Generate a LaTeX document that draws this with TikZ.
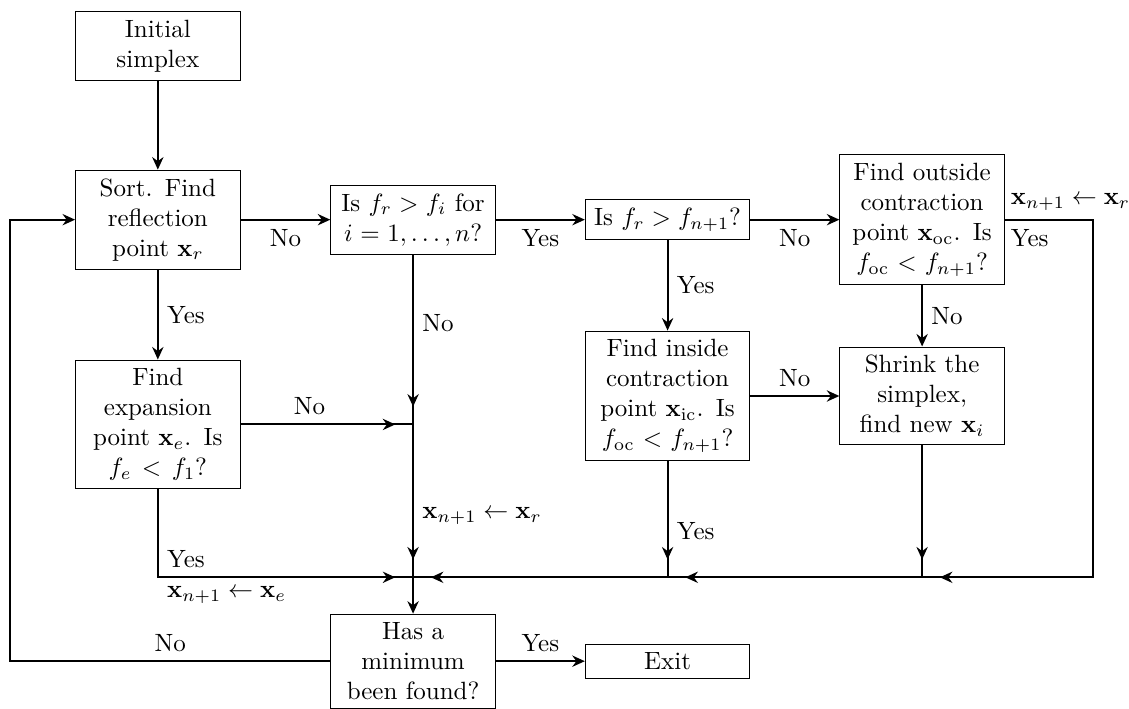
\documentclass[tikz,border=0pt]{standalone}
\usepackage{amssymb}
\usepackage{amsmath}
\usetikzlibrary{arrows.meta}

\begin{document}
\begin{tikzpicture}[scale=1.0,
  box/.style={draw, text width=2.08cm, align=center},
  flow/.style={thick, -{Stealth[length=5pt,width=4.5pt]}},
  merge/.style={thick, postaction={draw, flow, shorten >=0.25cm}}]
\useasboundingbox (0,0) rectangle (15.88,-9.97);

\node[box] (init) at (2.22,-0.65) {Initial simplex};
\node[box] (sort) at (2.22,-3.09) {Sort. Find reflection point $\mathbf{x}_r$};
\node[box] (isfi) at (5.81,-3.09) {Is $f_r > f_i$ for $i=1,\ldots,n$?};
\node[box] (isfn) at (9.39,-3.09) {Is $f_r > f_{n+1}$?};
\node[box] (outc) at (12.97,-3.09) {Find outside contraction point $\mathbf{x}_{\mathrm{oc}}$. Is $f_{\mathrm{oc}} < f_{n+1}$?};
\node[box] (expn) at (2.22,-5.97) {Find expansion point $\mathbf{x}_e$. Is $f_e < f_1$?};
\node[box] (insc) at (9.39,-5.57) {Find inside contraction point $\mathbf{x}_{\mathrm{ic}}$. Is $f_{\mathrm{oc}} < f_{n+1}$?};
\node[box] (shrk) at (12.97,-5.57) {Shrink the simplex, find new $\mathbf{x}_i$};
\node[box] (hasm) at (5.81,-9.30) {Has a minimum been found?};
\node[box] (exit) at (9.39,-9.30) {Exit};

\coordinate (jno) at (isfi |- expn);
\coordinate (jmin) at (5.81,-8.12);
\coordinate (jins) at (insc |- jmin);
\coordinate (jshr) at (shrk |- jmin);
\coordinate (rgt) at (15.37,-8.12);
\coordinate (lft) at (0.14,-9.30);

\draw[flow] (init) -- (sort);
\draw[flow] (sort) -- node[below] {No} (isfi);
\draw[flow] (isfi) -- node[below] {Yes} (isfn);
\draw[flow] (isfn) -- node[below] {No} (outc);
\draw[flow] (sort) -- node[right] {Yes} (expn);
\draw[flow] (isfn) -- node[right] {Yes} (insc);
\draw[flow] (outc) -- node[right] {No} (shrk);
\draw[flow] (insc) -- node[above] {No} (shrk);

\draw[merge] (isfi.south) -- node[right, pos=0.4] {No} (jno);
\draw[merge] (expn.east) -- node[above, pos=0.4] {No} (jno);
\draw[merge] (jno) -- node[right, pos=0.6] {$\mathbf{x}_{n+1} \leftarrow \mathbf{x}_r$} (jmin);
\draw[merge] (expn.south) |- node[above right] {Yes} node[below right] {$\mathbf{x}_{n+1} \leftarrow \mathbf{x}_e$} (jmin);
\draw[merge] (insc.south) -- node[right, pos=0.6] {Yes} (jins);
\draw[merge] (shrk.south) -- (jshr);
\draw[merge] (jins) -- (jmin);
\draw[merge] (jshr) -- (jins);
\draw[merge] (outc.east) node[above right, inner xsep=2pt] {$\mathbf{x}_{n+1} \leftarrow \mathbf{x}_r$} node[below right, inner xsep=2pt] {Yes} -| (rgt) -- (jshr);
\draw[flow] (jmin) -- (hasm);

\draw[flow] (hasm.west) -- node[above] {No} (lft) |- (sort.west);
\draw[flow] (hasm) -- node[above] {Yes} (exit);

\end{tikzpicture}
\end{document}
